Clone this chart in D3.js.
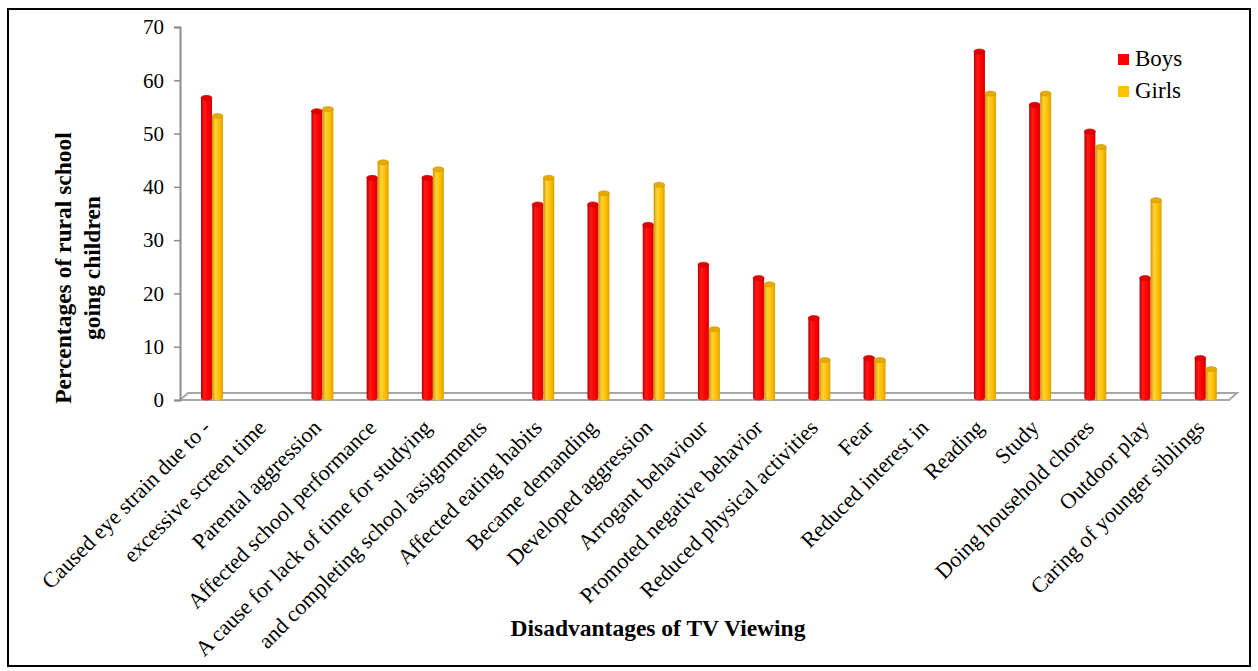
<!DOCTYPE html>
<html>
<head>
<meta charset="utf-8">
<script src="https://cdn.jsdelivr.net/npm/d3@7"></script>
<style>
  html, body { margin: 0; padding: 0; background: #fff; }
  svg { display: block; }
  text { font-family: "Liberation Serif", "Times New Roman", serif; fill: #000; }
</style>
</head>
<body>
<svg id="chart" width="1258" height="671"></svg>
<script>
// Category slots along the x axis (long labels are split over two slots)
const categories = [
  "Caused eye strain due to -",
  "excessive screen time",
  "Parental aggression",
  "Affected school performance",
  "A cause for lack of time for studying",
  "and completing school assignments",
  "Affected eating habits",
  "Became demanding",
  "Developed aggression",
  "Arrogant behaviour",
  "Promoted negative behavior",
  "Reduced physical activities",
  "Fear",
  "Reduced interest in",
  "Reading",
  "Study",
  "Doing household chores",
  "Outdoor play",
  "Caring of younger siblings"
];
const seriesNames = ["Boys", "Girls"];
const boys  = [56.7, null, 54.2, 41.7, 41.7, null, 36.7, 36.7, 32.9, 25.4, 22.9, 15.4, 7.9, null, 65.4, 55.4, 50.4, 22.9, 7.9];
const girls = [53.3, null, 54.6, 44.6, 43.3, null, 41.7, 38.8, 40.4, 13.3, 21.7, 7.5, 7.5, null, 57.5, 57.5, 47.5, 37.5, 5.8];
const yTicks = [0, 10, 20, 30, 40, 50, 60, 70];

const svg = d3.select("#chart");

// outer frame
svg.append("rect")
  .attr("x", 8).attr("y", 9).attr("width", 1242).attr("height", 657)
  .attr("fill", "#fff").attr("stroke", "#000").attr("stroke-width", 2);

const x = d3.scaleBand().domain(categories).range([180, 1229]).paddingInner(0).paddingOuter(0);
const y = d3.scaleLinear().domain([0, 70]).range([400, 27]);
const depth = { dx: 8, dy: -7 };        // 3D floor offset
const shift = 4.4;                        // bars sit mid-depth
const xs = d3.scaleBand().domain(seriesNames).range([0, 22]);

// gradients for cylinder shading
const defs = svg.append("defs");
const palettes = {
  Boys:  ["#b80000", "#ff1a1a", "#ff0000", "#d40000"],
  Girls: ["#c99400", "#ffd23a", "#ffc000", "#dca200"]
};
seriesNames.forEach(s => {
  const g = defs.append("linearGradient").attr("id", "grad-" + s)
    .attr("x1", "0%").attr("x2", "100%").attr("y1", "0%").attr("y2", "0%");
  const c = palettes[s];
  g.append("stop").attr("offset", "0%").attr("stop-color", c[0]);
  g.append("stop").attr("offset", "30%").attr("stop-color", c[1]);
  g.append("stop").attr("offset", "65%").attr("stop-color", c[2]);
  g.append("stop").attr("offset", "100%").attr("stop-color", c[3]);
});

// floor (3D base)
const x0 = x.range()[0], x1 = x.range()[1], yb = y(0);
svg.append("path")
  .attr("d", `M${x0},${yb} L${x0 + depth.dx},${yb + depth.dy} L${x1 + depth.dx},${yb + depth.dy} L${x1},${yb} Z`)
  .attr("fill", "none").attr("stroke", "#a6a6a6").attr("stroke-width", 2);

// y axis
const yAxis = d3.axisLeft(y).tickValues(yTicks).tickSize(6).tickPadding(10);
const gy = svg.append("g").attr("transform", `translate(${x0},0)`).call(yAxis);
gy.select(".domain").attr("stroke", "#8c8c8c").attr("stroke-width", 2);
gy.selectAll(".tick line").attr("stroke", "#8c8c8c").attr("stroke-width", 1.5);
gy.selectAll(".tick text").attr("font-size", 21).attr("font-family", "Liberation Serif, serif").attr("fill", "#222");

// bars as cylinders
const data = [];
categories.forEach((c, i) => {
  [["Boys", boys[i]], ["Girls", girls[i]]].forEach(([s, v]) => {
    if (v != null) data.push({ cat: c, series: s, value: v });
  });
});

const ry = 2.5;
const bars = svg.append("g").selectAll("g.bar").data(data).join("g").attr("class", "bar");
bars.each(function(d) {
  const g = d3.select(this);
  const bx = x(d.cat) + x.bandwidth() / 2 - xs.bandwidth() + shift + xs(d.series);
  const w = xs.bandwidth();
  const top = y(d.value);
  const bottom = y(0) - 2;
  g.append("path")
    .attr("d", `M${bx},${top} L${bx},${bottom} A${w / 2},${ry} 0 0 0 ${bx + w},${bottom} L${bx + w},${top} Z`)
    .attr("fill", `url(#grad-${d.series})`);
  g.append("ellipse")
    .attr("cx", bx + w / 2).attr("cy", top).attr("rx", w / 2).attr("ry", ry)
    .attr("fill", d.series === "Boys" ? "#e00000" : "#e6ab00")
    .attr("stroke", d.series === "Boys" ? "#c00000" : "#c99400").attr("stroke-width", 0.6);
});

// x category labels
const xl = svg.append("g");
categories.forEach(c => {
  const cx = x(c) + x.bandwidth() / 2 + shift;
  xl.append("text")
    .attr("transform", `translate(${cx},${yb + 29}) rotate(-45)`)
    .attr("text-anchor", "end")
    .attr("font-size", 22)
    .text(c);
});

// axis titles
svg.append("text")
  .attr("x", 658).attr("y", 636)
  .attr("text-anchor", "middle")
  .attr("font-size", 23.5).attr("font-weight", "bold")
  .text("Disadvantages of TV Viewing");

const yt = svg.append("text")
  .attr("transform", "translate(71,268) rotate(-90)")
  .attr("text-anchor", "middle")
  .attr("font-size", 23.5).attr("font-weight", "bold");
yt.append("tspan").attr("x", 0).attr("dy", 0).text("Percentages of rural school");
yt.append("tspan").attr("x", 0).attr("dy", 29).text("going children");

// legend
const legendColors = { Boys: "#ff0000", Girls: "#ffc000" };
const lg = svg.append("g").attr("transform", "translate(1118,54)");
seriesNames.forEach((s, i) => {
  lg.append("rect").attr("x", 0).attr("y", i * 32).attr("width", 11).attr("height", 11)
    .attr("fill", legendColors[s]);
  lg.append("text").attr("x", 17).attr("y", i * 32 + 12)
    .attr("font-size", 23).text(s);
});
</script>
</body>
</html>
